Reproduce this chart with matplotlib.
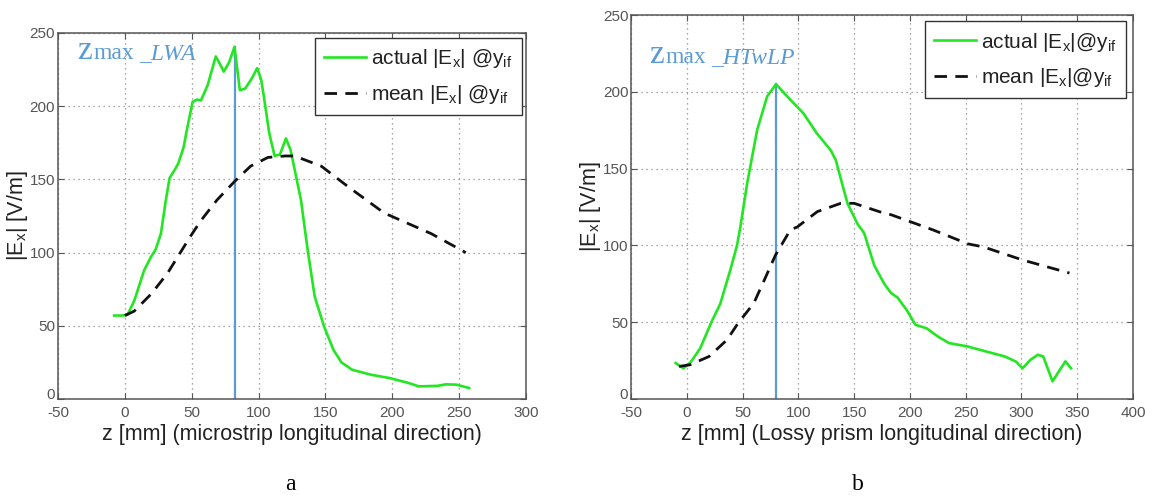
import numpy as np
import matplotlib
matplotlib.use("Agg")
import matplotlib.pyplot as plt
from matplotlib.transforms import offset_copy, ScaledTranslation

# ---- panel a (microstrip) ----
za_actual = [-8, -2, 2, 7, 14.5, 19.5, 23, 27, 30.7, 33.5, 38, 40, 44, 46, 50.7, 54, 57,
             62, 68, 71, 74, 78, 82, 84, 86, 90, 95, 99, 102, 104, 108, 112, 116,
             120.5, 124, 131.7, 136.7, 142, 149, 156, 162, 170, 184, 198, 212, 220,
             234, 240, 248, 257.5]
va_actual = [57, 57, 57.5, 67, 88, 97, 102, 113, 136, 151, 157.6, 161, 172, 182, 203,
             204.5, 204, 214.5, 234, 229, 223.6, 230, 240.5, 226, 211, 212, 219, 226,
             218, 206.5, 181.6, 166, 167, 178, 170, 136, 102, 70, 49.5, 33.6, 25, 20,
             16.6, 14.3, 11, 8.6, 9, 10, 9.8, 7.5]
za_mean = [0, 7, 20, 32, 49, 57, 69, 82, 94, 107, 120, 127, 147, 167, 194, 229, 255]
va_mean = [57, 60, 72, 86, 111, 122, 136, 148.5, 159, 165, 166, 166, 159, 145, 127,
           113, 100]
za_peak = 82.6
va_peak = 240.5

# ---- panel b (lossy prism) ----
zb_actual = [-10, -3, 3.5, 12, 22, 30, 39, 45, 48, 54, 63, 72, 80, 90, 104.5, 116.5,
             129, 133.5, 144, 153, 159, 168, 177, 183, 189, 197, 205, 215, 225, 235,
             251.7, 268, 285, 294.7, 301, 308, 314.6, 319.5, 327.8, 334.4, 339.4, 344.4]
vb_actual = [23.4, 20, 24, 33, 50, 62, 84, 100, 112, 140, 175, 197, 205, 197, 186, 173,
             162, 155.6, 127.4, 114, 108, 87, 75, 69, 66, 58, 48.3, 46, 40.7, 36.4,
             34.2, 31, 27.7, 24.5, 20, 25.5, 28.8, 27.7, 11.5, 19, 24.5, 20]
zb_mean = [-7, 3, 20, 36, 46, 60, 69.5, 79.5, 92.7, 99, 117, 138, 150, 176.6, 183, 221,
           252, 266, 301, 343]
vb_mean = [21.2, 22.3, 27.7, 38.5, 49.4, 62.3, 77.5, 93.7, 110, 112, 122, 127.4, 127.4,
           121, 120, 110, 101, 99, 90.5, 82]
zb_peak = 80
vb_peak = 205

GREEN = "#22e622"
BLUE = "#5b9bd5"
GRAY = "#555555"
TXT = "#222222"

plt.rcParams["font.family"] = ["Liberation Sans", "DejaVu Sans"]
plt.rcParams["axes.unicode_minus"] = False
plt.rcParams["mathtext.fontset"] = "custom"
plt.rcParams["mathtext.rm"] = "Liberation Sans"
plt.rcParams["mathtext.it"] = "Liberation Sans:italic"

fig = plt.figure(figsize=(11.57, 4.99), dpi=100)
ax_a = fig.add_axes([0.0501, 0.2004, 0.4045, 0.7335])
ax_b = fig.add_axes([0.5454, 0.2004, 0.4339, 0.7695])


def style_axes(ax, xlim, xstep):
    ax.set_xlim(*xlim)
    ax.set_ylim(0, 250)
    ax.set_xticks(np.arange(xlim[0], xlim[1] + 1, xstep))
    ax.set_yticks(np.arange(0, 251, 50))
    ax.grid(True, color="#8a8a8a", linestyle=(0, (1, 3)), linewidth=0.9)
    ax.tick_params(direction="in", top=True, right=True, length=4,
                   labelsize=11, labelcolor=GRAY, color=GRAY, pad=2)
    ax.tick_params(axis="x", pad=5)
    for s in ax.spines.values():
        s.set_color(GRAY)
        s.set_linewidth(1.1)
    ax.set_ylabel(r"$|\mathrm{E}_{\mathrm{x}}|$ [V/m]", fontsize=15.5, color=TXT,
                  labelpad=0)
    # the "0" on the y axis sits a little above the corner, as in MATLAB
    lab0 = ax.get_yticklabels()[0]
    lab0.set_transform(lab0.get_transform()
                       + ScaledTranslation(0, 4 / 72, fig.dpi_scale_trans))


def draw_panel(ax, z_act, v_act, z_mean, v_mean, z_pk, v_pk, sep):
    ax.plot([z_pk, z_pk], [0, v_pk], color=BLUE, lw=1.6, zorder=2)
    ax.plot(z_act, v_act, color=GREEN, lw=1.9, zorder=3,
            label=r"actual $|\mathrm{E}_{\mathrm{x}}|$" + sep + r"@$\mathrm{y}_{\mathrm{if}}$")
    ax.plot(z_mean, v_mean, color="#111111", lw=2.0, ls=(0, (4.5, 3)), zorder=4,
            label=r"mean $|\mathrm{E}_{\mathrm{x}}|$" + sep + r"@$\mathrm{y}_{\mathrm{if}}$")


def chain_text(ax, x, y, parts):
    # draw consecutive pieces of text on one baseline
    renderer = fig.canvas.get_renderer()
    dx = 0.0
    for s, size, style, gap in parts:
        tr = offset_copy(ax.transData, fig=fig, x=dx, y=0, units="dots")
        t = ax.text(x, y, s, fontsize=size, color=BLUE, style=style,
                    family=["Liberation Serif", "DejaVu Serif"], va="baseline",
                    transform=tr)
        dx += t.get_window_extent(renderer).width + gap


draw_panel(ax_a, za_actual, va_actual, za_mean, va_mean, za_peak, va_peak, " ")
draw_panel(ax_b, zb_actual, vb_actual, zb_mean, vb_mean, zb_peak, vb_peak, "")
style_axes(ax_a, (-50, 300), 50)
style_axes(ax_b, (-50, 400), 50)

ax_a.set_xlabel("z [mm] (microstrip longitudinal direction)", fontsize=15.5,
                color=TXT, labelpad=3)
ax_b.set_xlabel("z [mm] (Lossy prism longitudinal direction)", fontsize=15.5,
                color=TXT, labelpad=3)

for ax, anchor in ((ax_a, (0.991, 0.986)), (ax_b, (0.986, 0.984))):
    leg = ax.legend(loc="upper right", bbox_to_anchor=anchor, borderaxespad=0,
                    fontsize=15, fancybox=False, framealpha=1, handlelength=2.0,
                    handletextpad=0.25, borderpad=0.45, labelspacing=0.6)
    leg.get_frame().set_edgecolor("#333333")
    leg.get_frame().set_linewidth(1.0)
    for t in leg.get_texts():
        t.set_color(TXT)

# z_max annotations (serif, light blue)
chain_text(ax_a, -36, 232, [("z", 24, "normal", 2), ("max", 17, "normal", 5),
                            ("_LWA", 17, "italic", 0)])
chain_text(ax_b, -34, 219, [("z", 24, "normal", 2), ("max", 17, "normal", 5),
                            ("_HTwLP", 17, "italic", 0)])

fig.text(290 / 1157, 1 - 485 / 499, "a", fontsize=17,
         family=["Liberation Serif", "DejaVu Serif"], ha="center", va="center")
fig.text(858 / 1157, 1 - 485 / 499, "b", fontsize=17,
         family=["Liberation Serif", "DejaVu Serif"], ha="center", va="center")

fig.savefig("out.png", dpi=100)
